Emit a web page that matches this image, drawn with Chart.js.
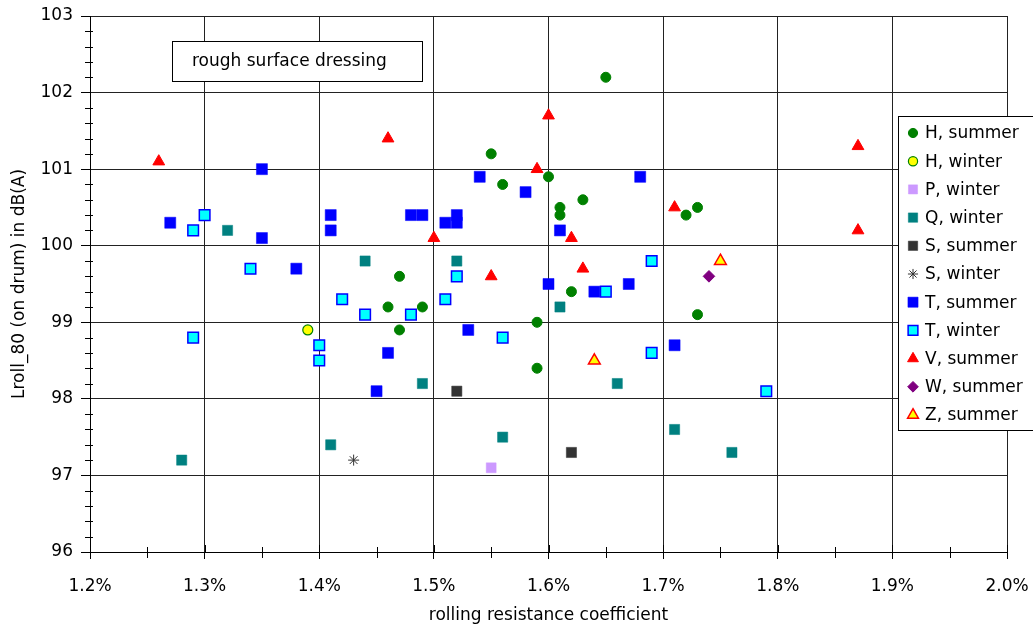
<!DOCTYPE html>
<html>
<head>
<meta charset="utf-8">
<title>rough surface dressing</title>
<script src="https://cdn.jsdelivr.net/npm/chart.js@4/dist/chart.umd.min.js"></script>
<style>
    body { margin: 0; background: #fff; }
    #chart { display: block; }
</style>
</head>
<body>
<canvas id="chart" width="1033" height="629"></canvas>
<script>
// Values: x = rolling resistance coefficient (%), y = Lroll_80 (dB(A))
const hSummerX = [1.65, 1.55, 1.56, 1.60, 1.61, 1.61, 1.63, 1.72, 1.73, 1.47, 1.46, 1.49, 1.47, 1.59, 1.59, 1.62, 1.73];
const hSummerY = [102.2, 101.2, 100.8, 100.9, 100.5, 100.4, 100.6, 100.4, 100.5, 99.6, 99.2, 99.2, 98.9, 99.0, 98.4, 99.4, 99.1];
const hWinterX = [1.39];
const hWinterY = [98.9];
const pWinterX = [1.55];
const pWinterY = [97.1];
const qWinterX = [1.28, 1.32, 1.44, 1.41, 1.52, 1.49, 1.56, 1.61, 1.66, 1.71, 1.76];
const qWinterY = [97.2, 100.2, 99.8, 97.4, 99.8, 98.2, 97.5, 99.2, 98.2, 97.6, 97.3];
const sSummerX = [1.52, 1.62];
const sSummerY = [98.1, 97.3];
const sWinterX = [1.43];
const sWinterY = [97.2];
const tSummerX = [1.27, 1.35, 1.35, 1.38, 1.41, 1.41, 1.48, 1.49, 1.51, 1.52, 1.52, 1.54, 1.58, 1.60, 1.61, 1.68, 1.64, 1.67, 1.53, 1.46, 1.45, 1.71];
const tSummerY = [100.3, 101.0, 100.1, 99.7, 100.4, 100.2, 100.4, 100.4, 100.3, 100.3, 100.4, 100.9, 100.7, 99.5, 100.2, 100.9, 99.4, 99.5, 98.9, 98.6, 98.1, 98.7];
const tWinterX = [1.30, 1.29, 1.34, 1.29, 1.40, 1.40, 1.42, 1.44, 1.48, 1.51, 1.52, 1.56, 1.65, 1.69, 1.69, 1.79];
const tWinterY = [100.4, 100.2, 99.7, 98.8, 98.7, 98.5, 99.3, 99.1, 99.1, 99.3, 99.6, 98.8, 99.4, 99.8, 98.6, 98.1];
const vSummerX = [1.26, 1.46, 1.60, 1.59, 1.50, 1.62, 1.71, 1.55, 1.63, 1.87, 1.87];
const vSummerY = [101.1, 101.4, 101.7, 101.0, 100.1, 100.1, 100.5, 99.6, 99.7, 101.3, 100.2];
const wSummerX = [1.74];
const wSummerY = [99.6];
const zSummerX = [1.75, 1.64];
const zSummerY = [99.8, 98.5];

// Axis settings
const xMin = 1.2, xMax = 2.0, xStep = 0.1, xMinorStep = 0.05;
const yMin = 96, yMax = 103, yStep = 1, yMinorStep = 0.2;
const xTitle = 'rolling resistance coefficient';
const yTitle = 'Lroll_80 (on drum) in dB(A)';
const boxText = 'rough surface dressing';

function toPoints(xs, ys) {
    return xs.map(function (x, i) { return { x: x, y: ys[i] }; });
}

// Series: label, data, marker style
const series = [
    { label: 'H, summer', data: toPoints(hSummerX, hSummerY), style: 'circle', radius: 5, fill: '#008000', border: '#008000', bw: 1 },
    { label: 'H, winter', data: toPoints(hWinterX, hWinterY), style: 'circle', radius: 5, fill: '#FFFF00', border: '#008000', bw: 1.2 },
    { label: 'P, winter', data: toPoints(pWinterX, pWinterY), style: 'rect', radius: 7, fill: '#CC99FF', border: '#CC99FF', bw: 0.5 },
    { label: 'Q, winter', data: toPoints(qWinterX, qWinterY), style: 'rect', radius: 7.2, fill: '#008080', border: '#008080', bw: 0.5 },
    { label: 'S, summer', data: toPoints(sSummerX, sSummerY), style: 'rect', radius: 7.2, fill: '#333333', border: '#333333', bw: 0.5 },
    { label: 'S, winter', data: toPoints(sWinterX, sWinterY), style: 'star', radius: 5.5, fill: '#333333', border: '#333333', bw: 1 },
    { label: 'T, summer', data: toPoints(tSummerX, tSummerY), style: 'rect', radius: 7.8, fill: '#0000FF', border: '#0000FF', bw: 0.5 },
    { label: 'T, winter', data: toPoints(tWinterX, tWinterY), style: 'rect', radius: 7.5, fill: '#00FFFF', border: '#0000FF', bw: 1.5 },
    { label: 'V, summer', data: toPoints(vSummerX, vSummerY), style: 'triangle', radius: 6.8, fill: '#FF0000', border: '#FF0000', bw: 1 },
    { label: 'W, summer', data: toPoints(wSummerX, wSummerY), style: 'rectRot', radius: 5.8, fill: '#800080', border: '#800080', bw: 1 },
    { label: 'Z, summer', data: toPoints(zSummerX, zSummerY), style: 'triangle', radius: 6.8, fill: '#FFFF00', border: '#FF0000', bw: 1.5 }
];

Chart.defaults.font.family = "'DejaVu Sans', 'Liberation Sans', Arial, sans-serif";
Chart.defaults.font.size = 17;
Chart.defaults.color = '#000';

// Minor ticks, the text box and the legend are drawn by this plugin
const decoPlugin = {
    id: 'deco',
    afterDraw: function (chart) {
        const ctx = chart.ctx;
        const xs = chart.scales.x;
        const ys = chart.scales.y;
        const area = chart.chartArea;

        ctx.save();
        ctx.strokeStyle = '#000';
        ctx.lineWidth = 1;
        ctx.beginPath();
        // minor ticks on y axis
        for (let v = yMin + yMinorStep; v < yMax - 1e-9; v += yMinorStep) {
            if (Math.abs(v - Math.round(v)) < 1e-6) continue;
            const py = Math.round(ys.getPixelForValue(v)) + 0.5;
            ctx.moveTo(area.left - 5, py);
            ctx.lineTo(area.left + 3, py);
        }
        // minor ticks on x axis, plus inner half of the major ones
        for (let v = xMin; v <= xMax + 1e-9; v += xMinorStep) {
            const px = Math.round(xs.getPixelForValue(v)) + 0.5;
            const isMajor = Math.abs(v / xStep - Math.round(v / xStep)) < 1e-6;
            if (isMajor) {
                ctx.moveTo(px, area.bottom);
                ctx.lineTo(px, area.bottom - 7);
            } else {
                ctx.moveTo(px, area.bottom - 5);
                ctx.lineTo(px, area.bottom + 6);
            }
        }
        ctx.stroke();

        // text box in the top left
        const bx = area.left + 82, by = area.top + 25, bw = 250, bh = 40;
        ctx.fillStyle = '#fff';
        ctx.fillRect(bx, by, bw, bh);
        ctx.strokeStyle = '#000';
        ctx.strokeRect(bx + 0.5, by + 0.5, bw, bh);
        ctx.fillStyle = '#000';
        ctx.font = "17px 'DejaVu Sans', Arial, sans-serif";
        ctx.textBaseline = 'middle';
        ctx.textAlign = 'left';
        ctx.fillText(boxText, bx + 20, by + bh / 2 + 1);

        // legend
        const lx = 898, ly = 116, lw = 140, lh = 314, rowH = 28.2;
        ctx.fillStyle = '#fff';
        ctx.fillRect(lx, ly, lw, lh);
        ctx.strokeStyle = '#000';
        ctx.strokeRect(lx + 0.5, ly + 0.5, lw, lh);
        series.forEach(function (s, i) {
            const cy = ly + 17 + i * rowH;
            ctx.fillStyle = s.fill;
            ctx.strokeStyle = s.border;
            ctx.lineWidth = s.bw;
            Chart.helpers.drawPoint(ctx, { pointStyle: s.style, radius: s.radius * 0.92, borderWidth: s.bw, rotation: 0 }, 913, cy);
            ctx.fillStyle = '#000';
            ctx.fillText(s.label, 925, cy + 1);
        });
        ctx.restore();
    }
};

const datasets = series.map(function (s, i) {
    return {
        label: s.label,
        data: s.data,
        pointStyle: s.style,
        pointRadius: s.radius,
        pointHoverRadius: s.radius,
        backgroundColor: s.fill,
        borderColor: s.border,
        pointBorderWidth: s.bw,
        showLine: false,
        order: -i
    };
});

new Chart(document.getElementById('chart'), {
    type: 'scatter',
    data: { datasets: datasets },
    options: {
        responsive: false,
        animation: false,
        devicePixelRatio: 1,
        layout: { padding: 0 },
        plugins: {
            legend: { display: false },
            tooltip: { enabled: false }
        },
        scales: {
            x: {
                type: 'linear',
                min: xMin,
                max: xMax,
                ticks: {
                    stepSize: xStep,
                    padding: 17,
                    maxRotation: 0,
                    callback: function (v) { return v.toFixed(1) + '%'; }
                },
                grid: { color: '#222', tickColor: '#000', tickLength: 7 },
                border: { display: true, color: '#000' },
                title: { display: true, text: xTitle, padding: { top: 0, bottom: 3 } },
                afterFit: function (scale) {
                    scale.height = 77;
                    scale.paddingLeft = 0;
                    scale.paddingRight = 26;
                }
            },
            y: {
                type: 'linear',
                min: yMin,
                max: yMax,
                ticks: { stepSize: yStep, padding: 8 },
                grid: { color: '#222', tickColor: '#000', tickLength: 9 },
                border: { display: true, color: '#000' },
                title: { display: true, text: yTitle, padding: { top: 9, bottom: 0 } },
                afterFit: function (scale) {
                    scale.width = 90;
                    scale.paddingTop = 16;
                    scale.paddingBottom = 0;
                }
            }
        }
    },
    plugins: [decoPlugin]
});
</script>
</body>
</html>
